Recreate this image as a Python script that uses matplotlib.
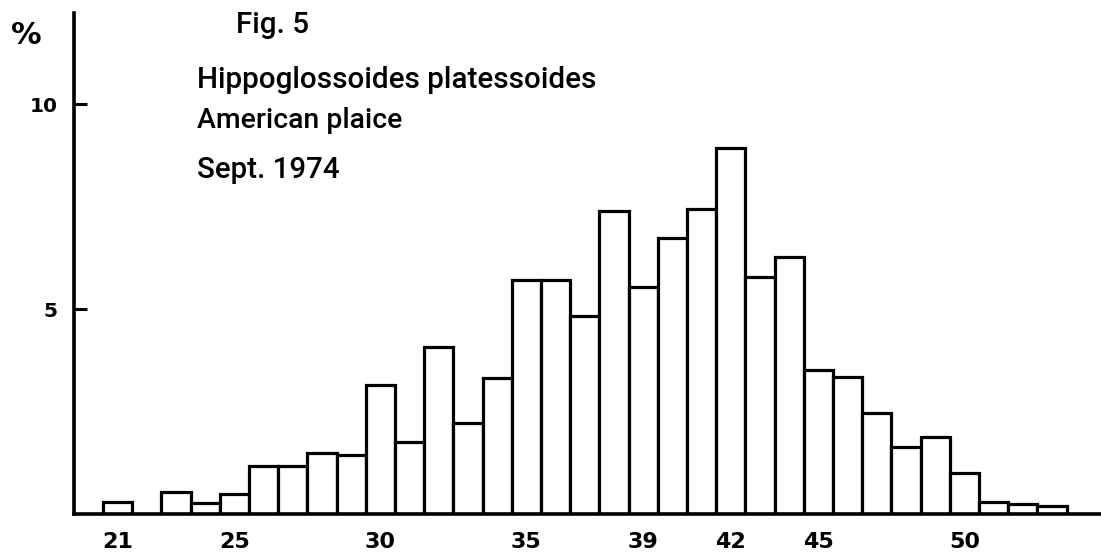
import matplotlib
matplotlib.use("Agg")
import matplotlib.pyplot as plt

# ---- data ----
lengths = [21, 23, 24, 25, 26, 27, 28, 29, 30, 31, 32, 33, 34, 35, 36, 37,
           38, 39, 40, 41, 42, 43, 44, 45, 46, 47, 48, 49, 50, 51, 52, 53]
percent = [0.30, 0.53, 0.28, 0.50, 1.17, 1.17, 1.48, 1.45, 3.15, 1.76, 4.07,
           2.22, 3.31, 5.71, 5.71, 4.84, 7.40, 5.53, 6.72, 7.43, 8.92, 5.79,
           6.26, 3.51, 3.33, 2.46, 1.64, 1.89, 0.99, 0.30, 0.24, 0.20]
x_ticks = [21, 25, 30, 35, 39, 42, 45, 50]
y_ticks = [5, 10]
y_tick_labels = ["5", "10"]
title_lines = ["Fig. 5", "Hippoglossoides platessoides", "American plaice", "Sept. 1974"]

W, H = 1101, 559
fig = plt.figure(figsize=(W / 100, H / 100), dpi=100)
ax = fig.add_axes([74 / W, (H - 514) / H, 1 - 74 / W, (514 - 13) / H])

ax.bar(lengths, percent, width=1.0, facecolor="white", edgecolor="black",
       linewidth=2.3, zorder=2)

ax.set_xlim(19.507, 54.68)
ax.set_ylim(0, 12.22)

for s in ["top", "right"]:
    ax.spines[s].set_visible(False)
for s in ["left", "bottom"]:
    ax.spines[s].set_linewidth(2.6)
    ax.spines[s].set_zorder(3)

ax.set_xticks(x_ticks)
ax.set_xticklabels([str(v) for v in x_ticks], fontsize=16, fontweight="bold",
                   family="DejaVu Sans")
ax.tick_params(axis="x", length=0, pad=13)

ax.set_yticks(y_ticks)
ax.set_yticklabels(y_tick_labels, fontsize=14.5, fontweight="bold",
                   family="DejaVu Sans")
ax.tick_params(axis="y", direction="in", length=9.5, width=2.2, pad=12)

# "%" label
fig.text(26 / W, 1 - 35 / H, "%", fontsize=22, fontweight="bold",
         family="DejaVu Sans", ha="center", va="center")

# title block: (left px, baseline px, target width px)
specs = [(236, 33, 73), (197, 88, 400), (197, 128, 205), (197, 178, 143)]
fig.canvas.draw()
renderer = fig.canvas.get_renderer()
for line, (lx, by, tw) in zip(title_lines, specs):
    t = fig.text(lx / W, 1 - by / H, line, fontsize=20, family="Roboto",
                 fontweight="medium", ha="left", va="baseline")
    w = t.get_window_extent(renderer).width
    t.set_fontsize(20 * tw / w)

fig.savefig("out.png", dpi=100)
